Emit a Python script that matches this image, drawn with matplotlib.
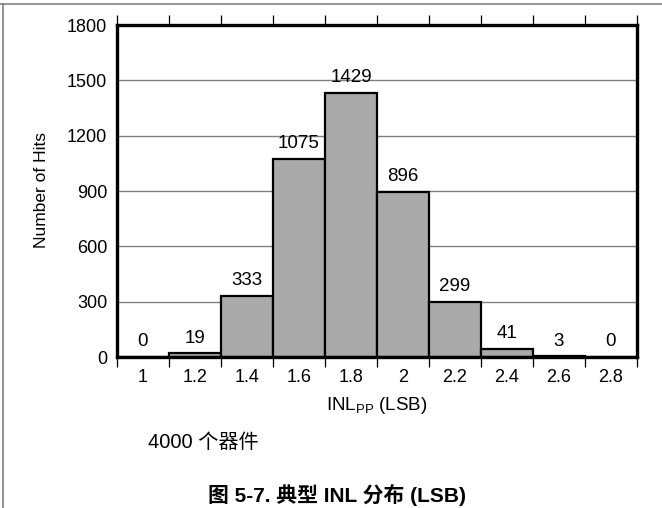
import matplotlib
matplotlib.use("Agg")
import matplotlib.pyplot as plt
from matplotlib.lines import Line2D

# data
bin_labels = ["1", "1.2", "1.4", "1.6", "1.8", "2", "2.2", "2.4", "2.6", "2.8"]
hits = [0, 19, 333, 1075, 1429, 896, 299, 41, 3, 0]
y_ticks = [0, 300, 600, 900, 1200, 1500, 1800]

plt.rcParams['font.family'] = ['Liberation Sans', 'Noto Sans CJK SC', 'DejaVu Sans']
plt.rcParams['mathtext.fontset'] = 'custom'
plt.rcParams['mathtext.rm'] = 'Liberation Sans'

W, H = 662, 508
fig = plt.figure(figsize=(W / 100, H / 100), dpi=100)

l, r, t, b = 117, 637, 25, 357
ax = fig.add_axes([l / W, 1 - b / H, (r - l) / W, (b - t) / H])

pos = list(range(len(hits)))
bars = ax.bar(pos, hits, width=1.0, color='#aaaaaa', edgecolor='black',
              linewidth=1.6, zorder=3)
ax.bar_label(bars, labels=[str(v) for v in hits], padding=5, fontsize=13.5, zorder=4)

ax.set_xlim(-0.5, len(hits) - 0.5)
ax.set_ylim(0, 1800)

# major ticks at bin edges (marks only), minor ticks at centres (labels only)
edges = [i - 0.5 for i in range(len(hits) + 1)]
ax.set_xticks(edges)
ax.set_xticklabels([''] * len(edges))
ax.set_xticks(pos, minor=True)
ax.set_xticklabels(bin_labels, minor=True, fontsize=13)
ax.tick_params(axis='x', which='major', direction='out', length=7.5, width=0.9,
               top=True, bottom=True, color='black')
ax.tick_params(axis='x', which='minor', length=0, pad=9)

ax.set_yticks(y_ticks)
ax.set_yticklabels([str(v) for v in y_ticks], fontsize=13)
ax.tick_params(axis='y', length=0, pad=7)

ax.yaxis.grid(True, color='#7f7f7f', linewidth=1.0, zorder=0)
ax.set_axisbelow(True)

for s in ax.spines.values():
    s.set_linewidth(2.4)
    s.set_color('black')
    s.set_zorder(5)

fig.text(42 / W, 1 - 190 / H, 'Number of Hits', fontsize=12.5, rotation=90,
         ha='center', va='center')
fig.text(377 / W, 1 - 406 / H, r'INL$_{\mathregular{PP}}$ (LSB)', fontsize=13.5,
         ha='center', va='center')

fig.text(148 / W, 1 - 442 / H, '4000 个器件', fontsize=14.5, ha='left', va='center')
fig.text(337 / W, 1 - 495 / H, '图 5-7. 典型 INL 分布 (LSB)', fontsize=15,
         fontweight='bold', ha='center', va='center')

# page frame lines
fig.add_artist(Line2D([0, 1], [1 - 4 / H, 1 - 4 / H], transform=fig.transFigure,
                      color='#808080', linewidth=1.2))
fig.add_artist(Line2D([3 / W, 3 / W], [0, 1 - 4 / H], transform=fig.transFigure,
                      color='#808080', linewidth=1.2))

fig.savefig('out.png', dpi=100)
